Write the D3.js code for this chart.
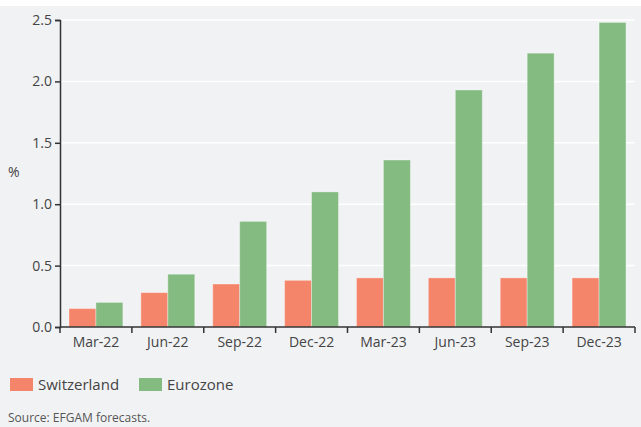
<!DOCTYPE html>
<html><head><meta charset="utf-8">
<script src="https://cdn.jsdelivr.net/npm/d3@7"></script>
<style>body{margin:0;background:#fff}svg{display:block}text{font-family:"Open Sans","Noto Sans",sans-serif}</style>
</head><body>
<svg id="c" width="641" height="427"></svg>
<script>
const categories = ["Mar-22","Jun-22","Sep-22","Dec-22","Mar-23","Jun-23","Sep-23","Dec-23"];
const switzerland = [0.15,0.28,0.35,0.38,0.40,0.40,0.40,0.40];
const eurozone = [0.20,0.43,0.86,1.10,1.36,1.93,2.23,2.48];
const seriesNames = ["Switzerland","Eurozone"];
const yTicks = [0,0.5,1.0,1.5,2.0,2.5];
const colors = ["#f5856a","#84bb81"];

const svg = d3.select("#c");
svg.append("rect").attr("x",0).attr("y",6).attr("width",641).attr("height",421).attr("fill","#f1f2f4");

const L=60,R=635,T=20,B=327;
const x = d3.scaleBand().domain(categories).range([L,R]).paddingInner(0.25).paddingOuter(0.125);
const xs = d3.scaleBand().domain(seriesNames).range([0,x.bandwidth()]);
const y = d3.scaleLinear().domain([0,2.5]).range([B,T]);

// grid
svg.append("g").selectAll("line").data(yTicks.filter(d=>d>0)).join("line")
 .attr("x1",L).attr("x2",R).attr("y1",d=>y(d)).attr("y2",d=>y(d))
 .attr("stroke","#fff").attr("stroke-width",1.5);

const data = [switzerland, eurozone];
data.forEach((vals,si)=>{
  svg.append("g").selectAll("rect").data(vals).join("rect")
   .attr("x",(d,i)=>x(categories[i])+xs(seriesNames[si]))
   .attr("width",xs.bandwidth())
   .attr("y",d=>y(d)).attr("height",d=>B-y(d))
   .attr("fill",colors[si])
   .attr("stroke","rgba(255,255,255,0.35)").attr("stroke-width",1);
});

// y axis
const ya = svg.append("g").attr("transform",`translate(${L},0)`)
 .call(d3.axisLeft(y).tickValues(yTicks).tickFormat(d3.format(".1f")).tickSize(5).tickPadding(3));
ya.select(".domain").attr("stroke","#333").attr("stroke-width",1.5);
ya.selectAll(".tick line").attr("stroke","#333").attr("stroke-width",1.5);
ya.selectAll("text").attr("fill","#444").style("font-size","14px");

// x axis
const xa = svg.append("g").attr("transform",`translate(0,${B})`);
xa.append("line").attr("x1",L).attr("x2",R).attr("stroke","#333").attr("stroke-width",1.5);
const bounds = categories.map(c=>x(c)-x.step()*x.paddingInner()/2).concat([R]);
xa.selectAll("line.t").data(bounds).join("line").attr("class","t")
 .attr("x1",d=>d).attr("x2",d=>d).attr("y1",0).attr("y2",6).attr("stroke","#333").attr("stroke-width",1.5);
xa.selectAll("text").data(categories).join("text")
 .attr("x",d=>x(d)+x.bandwidth()/2).attr("y",20).attr("text-anchor","middle")
 .attr("fill","#444").style("font-size","14px").text(d=>d);

svg.append("text").attr("x",8).attr("y",177).attr("fill","#444").style("font-size","14px").text("%");

// legend
const lg = svg.append("g");
const lx=[10,139];
seriesNames.forEach((n,i)=>{
  lg.append("rect").attr("x",lx[i]).attr("y",378).attr("width",23).attr("height",13).attr("fill",colors[i]);
  lg.append("text").attr("x",lx[i]+28).attr("y",390).attr("fill","#444").style("font-size","15px").text(n);
});

svg.append("text").attr("x",8).attr("y",422).attr("fill","#555").style("font-size","12px").text("Source: EFGAM forecasts.");
</script>
</body></html>
